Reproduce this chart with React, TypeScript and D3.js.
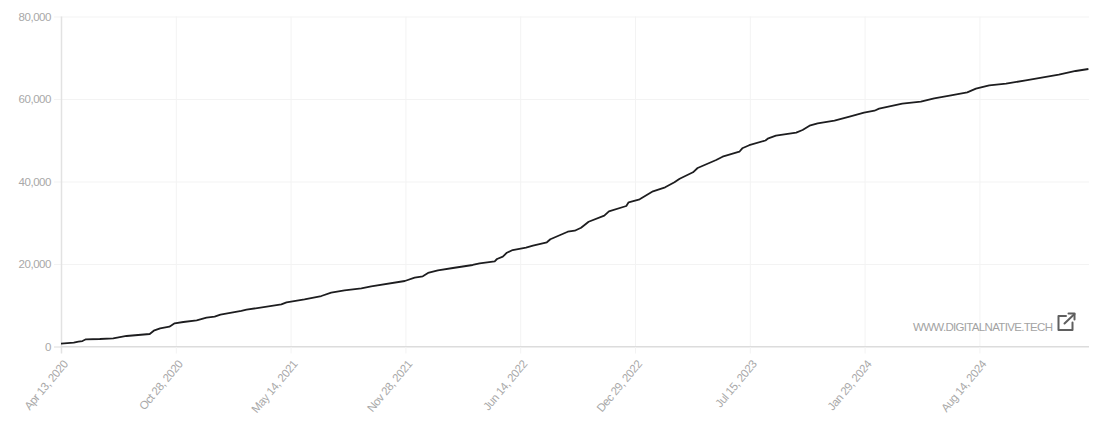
import React, { useRef, useEffect } from 'react';
import * as d3 from 'd3';

const startDate = 'Apr 13, 2020';
const endDate = 'Feb 19, 2025';

const tickLabels = [
  'Apr 13, 2020', 'Oct 28, 2020', 'May 14, 2021', 'Nov 28, 2021', 'Jun 14, 2022',
  'Dec 29, 2022', 'Jul 15, 2023', 'Jan 29, 2024', 'Aug 14, 2024',
];

const yTicks = [0, 20000, 40000, 60000, 80000];

// days since the first point
const days = [
  0, 22, 30, 37, 43, 67, 90, 113, 153, 160, 171, 187, 196, 211, 234, 251, 265, 275, 311, 320,
  380, 389, 420, 449, 466, 489, 518, 535, 593, 610, 624, 633, 650, 676, 710, 722, 748, 752, 762, 769,
  779, 802, 814, 838, 844, 860, 874, 886, 897, 910, 937, 945, 975, 979, 998, 1021, 1042, 1058, 1067, 1090,
  1098, 1130, 1141, 1170, 1175, 1187, 1215, 1220, 1233, 1268, 1279, 1291, 1305, 1334, 1360, 1385, 1403, 1411, 1451, 1483,
  1506, 1535, 1563, 1578, 1601, 1630, 1664, 1721, 1750, 1772,
];

const values = [
  680, 920, 1160, 1330, 1750, 1820, 1990, 2550, 3030, 3830, 4410, 4800, 5620, 5940, 6350, 6980, 7220, 7710, 8610, 8920,
  10230, 10710, 11440, 12240, 13040, 13620, 14110, 14590, 15880, 16680, 17020, 17820, 18470, 19030, 19760, 20170, 20650, 21210, 21770, 22740,
  23390, 23950, 24440, 25260, 25990, 26960, 27830, 28070, 28800, 30250, 31710, 32780, 34060, 34960, 35680, 37620, 38590, 39810, 40680, 42230,
  43270, 45210, 46010, 47220, 48050, 48800, 49940, 50470, 51100, 51830, 52480, 53530, 54110, 54740, 55710, 56680, 57160, 57650, 58860, 59340,
  60170, 60900, 61620, 62500, 63320, 63710, 64530, 65890, 66790, 67270,
];

const FONT = '"Liberation Sans", Arial, sans-serif';
const LABEL = '#a8a8a8';

const App: React.FC = () => {
  const svgRef = useRef<SVGSVGElement | null>(null);

  useEffect(() => {
    if (!svgRef.current) return;
    const svg = d3.select(svgRef.current);
    svg.selectAll('*').remove();

    const width = 1100;
    const height = 425;
    const margin = { top: 16.5, right: 11, bottom: 78.5, left: 61 };
    const innerWidth = width - margin.left - margin.right;
    const innerHeight = height - margin.top - margin.bottom;

    const parse = d3.utcParse('%b %d, %Y');
    const start = parse(startDate) as Date;

    const xScale = d3.scaleUtc()
      .domain([start, parse(endDate) as Date])
      .range([0, innerWidth]);

    const yScale = d3.scaleLinear()
      .domain([0, 80000])
      .range([innerHeight, 0]);

    const g = svg.append('g')
      .attr('transform', `translate(${margin.left},${margin.top})`);

    // y-axis with full width grid lines
    const yAxis = g.append('g')
      .call(d3.axisLeft(yScale)
        .tickValues(yTicks)
        .tickFormat(d => d3.format(',')(d as number))
        .tickSize(0)
        .tickPadding(10));
    yAxis.select('.domain').remove();
    yAxis.selectAll('.tick').append('line')
      .attr('x1', -7)
      .attr('x2', innerWidth)
      .attr('stroke', (d: any) => (d === 0 ? '#dcdcdc' : '#f3f3f3'));
    yAxis.selectAll('text')
      .attr('fill', LABEL)
      .attr('font-family', FONT)
      .attr('font-size', 11.5)
      .attr('letter-spacing', -0.45);

    // x-axis, labels turned 50 degrees
    const xAxis = g.append('g')
      .attr('transform', `translate(0,${innerHeight})`)
      .call(d3.axisBottom(xScale)
        .tickValues(tickLabels.map(d => parse(d) as Date))
        .tickFormat(d => d3.utcFormat('%b %d, %Y')(d as Date))
        .tickSizeOuter(0)
        .tickSize(0));
    xAxis.select('.domain').remove();
    xAxis.selectAll('.tick').append('line')
      .attr('y1', 7)
      .attr('y2', -innerHeight)
      .attr('stroke', (_d: any, i: number) => (i === 0 ? '#e2e2e2' : '#f3f3f3'))
      .attr('stroke-width', (_d: any, i: number) => (i === 0 ? 1.5 : 1));
    xAxis.selectAll('text')
      .attr('fill', LABEL)
      .attr('font-family', FONT)
      .attr('font-size', 11.5)
      .attr('letter-spacing', -0.45)
      .attr('text-anchor', 'end')
      .attr('dy', 0)
      .attr('y', 0)
      .attr('transform', 'translate(7,18) rotate(-50)');

    // bring the baseline on top of the vertical grid
    g.append('line')
      .attr('x1', 0)
      .attr('x2', innerWidth)
      .attr('y1', yScale(0))
      .attr('y2', yScale(0))
      .attr('stroke', '#dcdcdc');

    const line = d3.line<number>()
      .x((_d, i) => xScale(d3.utcDay.offset(start, days[i])))
      .y(d => yScale(d));

    g.append('path')
      .datum(values)
      .attr('fill', 'none')
      .attr('stroke', '#1d1d1f')
      .attr('stroke-width', 1.8)
      .attr('stroke-linejoin', 'round')
      .attr('d', line);

    // watermark
    svg.append('text')
      .attr('x', 1053)
      .attr('y', 331)
      .attr('text-anchor', 'end')
      .attr('fill', '#a3a3a3')
      .attr('font-family', FONT)
      .attr('font-size', 11.5)
      .attr('textLength', 140)
      .text('WWW.DIGITALNATIVE.TECH');

    // external link icon
    const icon = svg.append('g')
      .attr('fill', 'none')
      .attr('stroke', '#5f5f5f')
      .attr('stroke-width', 2)
      .attr('stroke-linecap', 'round')
      .attr('stroke-linejoin', 'round');
    icon.append('path').attr('d', 'M1066 316 H1058.5 V330 H1072.5 V322.5');
    icon.append('path').attr('d', 'M1064.5 323.5 L1074.5 314');
    icon.append('path').attr('d', 'M1068.5 313.5 H1074.5 V319.5');
  }, []);

  return (
    <svg
      ref={svgRef}
      width={1100}
      height={425}
      style={{ position: 'absolute', left: 0, top: 0, display: 'block', background: '#fff' }}
    />
  );
};

export default App;
